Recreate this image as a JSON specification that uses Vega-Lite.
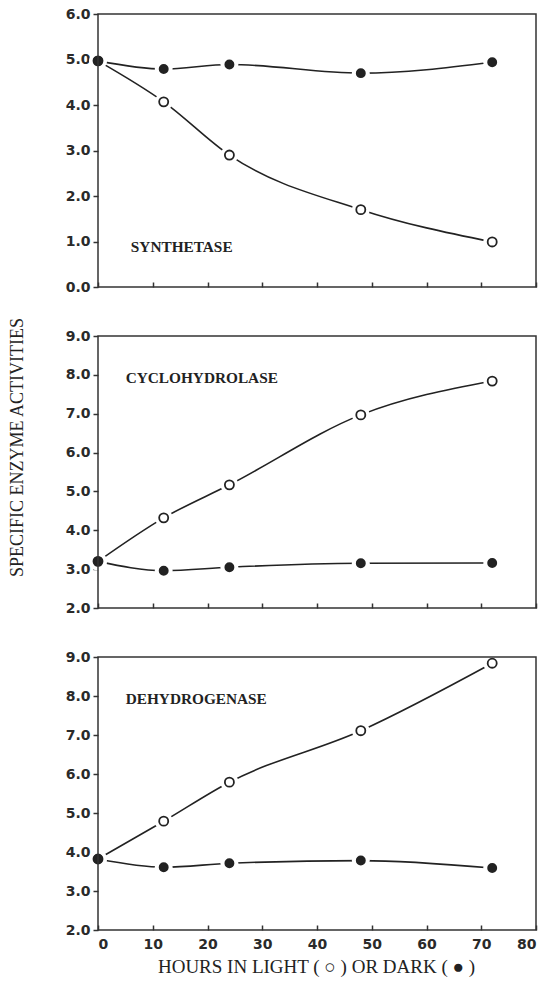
{
  "$schema": "https://vega.github.io/schema/vega-lite/v6.json",
  "background": "white",
  "padding": {"left": 8, "top": 7, "right": 5, "bottom": 5},
  "datasets": {
    "d": [
      {"panel": "syn", "cond": "light", "hours": 0, "value": 4.97},
      {"panel": "syn", "cond": "light", "hours": 12, "value": 4.07},
      {"panel": "syn", "cond": "light", "hours": 24, "value": 2.9},
      {"panel": "syn", "cond": "light", "hours": 48, "value": 1.7},
      {"panel": "syn", "cond": "light", "hours": 72, "value": 0.99},
      {"panel": "syn", "cond": "dark", "hours": 0, "value": 4.97},
      {"panel": "syn", "cond": "dark", "hours": 12, "value": 4.79},
      {"panel": "syn", "cond": "dark", "hours": 24, "value": 4.89},
      {"panel": "syn", "cond": "dark", "hours": 48, "value": 4.7},
      {"panel": "syn", "cond": "dark", "hours": 72, "value": 4.94},
      {"panel": "cyc", "cond": "light", "hours": 0, "value": 3.2},
      {"panel": "cyc", "cond": "light", "hours": 12, "value": 4.32},
      {"panel": "cyc", "cond": "light", "hours": 24, "value": 5.17},
      {"panel": "cyc", "cond": "light", "hours": 48, "value": 6.97},
      {"panel": "cyc", "cond": "light", "hours": 72, "value": 7.84},
      {"panel": "cyc", "cond": "dark", "hours": 0, "value": 3.2},
      {"panel": "cyc", "cond": "dark", "hours": 12, "value": 2.96},
      {"panel": "cyc", "cond": "dark", "hours": 24, "value": 3.05},
      {"panel": "cyc", "cond": "dark", "hours": 48, "value": 3.15},
      {"panel": "cyc", "cond": "dark", "hours": 72, "value": 3.16},
      {"panel": "deh", "cond": "light", "hours": 0, "value": 3.82},
      {"panel": "deh", "cond": "light", "hours": 12, "value": 4.79},
      {"panel": "deh", "cond": "light", "hours": 24, "value": 5.79},
      {"panel": "deh", "cond": "light", "hours": 48, "value": 7.11},
      {"panel": "deh", "cond": "light", "hours": 72, "value": 8.84},
      {"panel": "deh", "cond": "dark", "hours": 0, "value": 3.82},
      {"panel": "deh", "cond": "dark", "hours": 12, "value": 3.61},
      {"panel": "deh", "cond": "dark", "hours": 24, "value": 3.71},
      {"panel": "deh", "cond": "dark", "hours": 48, "value": 3.78},
      {"panel": "deh", "cond": "dark", "hours": 72, "value": 3.59}
    ],
    "labels": [
      {"panel": "syn", "label": "SYNTHETASE"},
      {"panel": "cyc", "label": "CYCLOHYDROLASE"},
      {"panel": "deh", "label": "DEHYDROGENASE"}
    ]
  },
  "spacing": 49,
  "bounds": "flush",
  "vconcat": [
    {
      "width": 438, "height": 273,
      "layer": [
        {"data": {"name": "d"}, "transform": [{"filter": "datum.panel == 'syn'"}],
         "mark": {"type": "line", "interpolate": "monotone", "stroke": "#222", "strokeWidth": 1.6},
         "encoding": {
           "x": {"field": "hours", "type": "quantitative", "scale": {"domain": [0, 80], "nice": false},
                 "axis": {"values": [0, 10, 20, 30, 40, 50, 60, 70, 80], "labels": false, "title": null, "offset": -5}},
           "y": {"field": "value", "type": "quantitative", "scale": {"domain": [0, 6], "nice": false},
                 "axis": {"values": [0, 1, 2, 3, 4, 5, 6], "format": ".1f", "title": null}},
           "detail": {"field": "cond"}}},
        {"data": {"name": "d"}, "transform": [{"filter": "datum.panel == 'syn'"}],
         "mark": {"type": "point", "shape": "circle", "filled": true, "size": 320, "color": "white", "opacity": 1},
         "encoding": {
           "x": {"field": "hours", "type": "quantitative", "axis": {"values": [0, 10, 20, 30, 40, 50, 60, 70, 80], "labels": false, "title": null, "offset": -5}},
           "y": {"field": "value", "type": "quantitative", "axis": {"values": [0, 1, 2, 3, 4, 5, 6], "format": ".1f", "title": null}}}},
        {"data": {"name": "d"}, "transform": [{"filter": "datum.panel == 'syn'"}],
         "mark": {"type": "point", "shape": "circle", "filled": true, "stroke": "#222", "strokeWidth": 1.8, "opacity": 1},
         "encoding": {
           "x": {"field": "hours", "type": "quantitative", "axis": {"values": [0, 10, 20, 30, 40, 50, 60, 70, 80], "labels": false, "title": null, "offset": -5}},
           "y": {"field": "value", "type": "quantitative", "axis": {"values": [0, 1, 2, 3, 4, 5, 6], "format": ".1f", "title": null}},
           "fill": {"field": "cond", "type": "nominal", "scale": {"domain": ["light", "dark"], "range": ["white", "#222"]}, "legend": null},
           "size": {"field": "cond", "type": "nominal", "scale": {"domain": ["light", "dark"], "range": [82, 66]}, "legend": null}
         }},
        {"data": {"name": "labels"}, "transform": [{"filter": "datum.panel == 'syn'"}],
         "mark": {"type": "text", "align": "left", "baseline": "middle", "font": "Liberation Serif", "fontWeight": "bold", "fontSize": 15.3, "fill": "#222"},
         "encoding": {
           "x": {"datum": 6, "type": "quantitative", "axis": {"values": [0, 10, 20, 30, 40, 50, 60, 70, 80], "labels": false, "title": null, "offset": -5}},
           "y": {"datum": 0.87, "type": "quantitative", "axis": {"values": [0, 1, 2, 3, 4, 5, 6], "format": ".1f", "title": null}},
           "text": {"field": "label", "type": "nominal"}}},
        {"data": {"name": "labels"}, "transform": [{"filter": "datum.panel == 'syn'"}],
         "mark": {"type": "rect", "filled": false, "stroke": "#333", "strokeWidth": 1.5},
         "encoding": {
           "x": {"datum": 0, "type": "quantitative", "axis": {"values": [0, 10, 20, 30, 40, 50, 60, 70, 80], "labels": false, "title": null, "offset": -5}},
           "x2": {"datum": 80},
           "y": {"datum": 0, "type": "quantitative", "axis": {"values": [0, 1, 2, 3, 4, 5, 6], "format": ".1f", "title": null}},
           "y2": {"datum": 6}}}
      ]
    },
    {
      "width": 438, "height": 272,
      "layer": [
        {"data": {"name": "d"}, "transform": [{"filter": "datum.panel == 'cyc'"}],
         "mark": {"type": "line", "interpolate": "monotone", "stroke": "#222", "strokeWidth": 1.6},
         "encoding": {
           "x": {"field": "hours", "type": "quantitative", "scale": {"domain": [0, 80], "nice": false},
                 "axis": {"values": [0, 10, 20, 30, 40, 50, 60, 70, 80], "labels": false, "title": null, "offset": -5}},
           "y": {"field": "value", "type": "quantitative", "scale": {"domain": [2, 9], "nice": false},
                 "axis": {"values": [2, 3, 4, 5, 6, 7, 8, 9], "format": ".1f", "title": "SPECIFIC ENZYME ACTIVITIES",
                          "titleX": -80.5, "titleY": 111, "titleAngle": 270, "titleAlign": "center", "titleBaseline": "middle"}},
           "detail": {"field": "cond"}}},
        {"data": {"name": "d"}, "transform": [{"filter": "datum.panel == 'cyc'"}],
         "mark": {"type": "point", "shape": "circle", "filled": true, "size": 320, "color": "white", "opacity": 1},
         "encoding": {
           "x": {"field": "hours", "type": "quantitative", "axis": {"values": [0, 10, 20, 30, 40, 50, 60, 70, 80], "labels": false, "title": null, "offset": -5}},
           "y": {"field": "value", "type": "quantitative", "axis": {"values": [2, 3, 4, 5, 6, 7, 8, 9], "format": ".1f", "title": "SPECIFIC ENZYME ACTIVITIES",
                          "titleX": -80.5, "titleY": 111, "titleAngle": 270, "titleAlign": "center", "titleBaseline": "middle"}}}},
        {"data": {"name": "d"}, "transform": [{"filter": "datum.panel == 'cyc'"}],
         "mark": {"type": "point", "shape": "circle", "filled": true, "stroke": "#222", "strokeWidth": 1.8, "opacity": 1},
         "encoding": {
           "x": {"field": "hours", "type": "quantitative", "axis": {"values": [0, 10, 20, 30, 40, 50, 60, 70, 80], "labels": false, "title": null, "offset": -5}},
           "y": {"field": "value", "type": "quantitative", "axis": {"values": [2, 3, 4, 5, 6, 7, 8, 9], "format": ".1f", "title": "SPECIFIC ENZYME ACTIVITIES",
                          "titleX": -80.5, "titleY": 111, "titleAngle": 270, "titleAlign": "center", "titleBaseline": "middle"}},
           "fill": {"field": "cond", "type": "nominal", "scale": {"domain": ["light", "dark"], "range": ["white", "#222"]}, "legend": null},
           "size": {"field": "cond", "type": "nominal", "scale": {"domain": ["light", "dark"], "range": [82, 66]}, "legend": null}
         }},
        {"data": {"name": "labels"}, "transform": [{"filter": "datum.panel == 'cyc'"}],
         "mark": {"type": "text", "align": "left", "baseline": "middle", "font": "Liberation Serif", "fontWeight": "bold", "fontSize": 15.3, "fill": "#222"},
         "encoding": {
           "x": {"datum": 5.06, "type": "quantitative", "axis": {"values": [0, 10, 20, 30, 40, 50, 60, 70, 80], "labels": false, "title": null, "offset": -5}},
           "y": {"datum": 7.92, "type": "quantitative", "axis": {"values": [2, 3, 4, 5, 6, 7, 8, 9], "format": ".1f", "title": "SPECIFIC ENZYME ACTIVITIES",
                          "titleX": -80.5, "titleY": 111, "titleAngle": 270, "titleAlign": "center", "titleBaseline": "middle"}},
           "text": {"field": "label", "type": "nominal"}}},
        {"data": {"name": "labels"}, "transform": [{"filter": "datum.panel == 'cyc'"}],
         "mark": {"type": "rect", "filled": false, "stroke": "#333", "strokeWidth": 1.5},
         "encoding": {
           "x": {"datum": 0, "type": "quantitative", "axis": {"values": [0, 10, 20, 30, 40, 50, 60, 70, 80], "labels": false, "title": null, "offset": -5}},
           "x2": {"datum": 80},
           "y": {"datum": 2, "type": "quantitative", "axis": {"values": [2, 3, 4, 5, 6, 7, 8, 9], "format": ".1f", "title": "SPECIFIC ENZYME ACTIVITIES",
                          "titleX": -80.5, "titleY": 111, "titleAngle": 270, "titleAlign": "center", "titleBaseline": "middle"}},
           "y2": {"datum": 9}}}
      ]
    },
    {
      "width": 438, "height": 273,
      "layer": [
        {"data": {"name": "d"}, "transform": [{"filter": "datum.panel == 'deh'"}],
         "mark": {"type": "line", "interpolate": "monotone", "stroke": "#222", "strokeWidth": 1.6},
         "encoding": {
           "x": {"field": "hours", "type": "quantitative", "scale": {"domain": [0, 80], "nice": false},
                 "axis": {"values": [0, 10, 20, 30, 40, 50, 60, 70, 80], "format": "d", "offset": -5, "title": "HOURS IN LIGHT ( ○ ) OR DARK ( ● )",
                          "titleX": 218, "titleY": 41, "titleAlign": "center", "titleBaseline": "middle", "titleFontSize": 19}},
           "y": {"field": "value", "type": "quantitative", "scale": {"domain": [2, 9], "nice": false},
                 "axis": {"values": [2, 3, 4, 5, 6, 7, 8, 9], "format": ".1f", "title": null}},
           "detail": {"field": "cond"}}},
        {"data": {"name": "d"}, "transform": [{"filter": "datum.panel == 'deh'"}],
         "mark": {"type": "point", "shape": "circle", "filled": true, "size": 320, "color": "white", "opacity": 1},
         "encoding": {
           "x": {"field": "hours", "type": "quantitative", "axis": {"values": [0, 10, 20, 30, 40, 50, 60, 70, 80], "format": "d", "offset": -5, "title": "HOURS IN LIGHT ( ○ ) OR DARK ( ● )",
                          "titleX": 218, "titleY": 41, "titleAlign": "center", "titleBaseline": "middle", "titleFontSize": 19}},
           "y": {"field": "value", "type": "quantitative", "axis": {"values": [2, 3, 4, 5, 6, 7, 8, 9], "format": ".1f", "title": null}}}},
        {"data": {"name": "d"}, "transform": [{"filter": "datum.panel == 'deh'"}],
         "mark": {"type": "point", "shape": "circle", "filled": true, "stroke": "#222", "strokeWidth": 1.8, "opacity": 1},
         "encoding": {
           "x": {"field": "hours", "type": "quantitative", "axis": {"values": [0, 10, 20, 30, 40, 50, 60, 70, 80], "format": "d", "offset": -5, "title": "HOURS IN LIGHT ( ○ ) OR DARK ( ● )",
                          "titleX": 218, "titleY": 41, "titleAlign": "center", "titleBaseline": "middle", "titleFontSize": 19}},
           "y": {"field": "value", "type": "quantitative", "axis": {"values": [2, 3, 4, 5, 6, 7, 8, 9], "format": ".1f", "title": null}},
           "fill": {"field": "cond", "type": "nominal", "scale": {"domain": ["light", "dark"], "range": ["white", "#222"]}, "legend": null},
           "size": {"field": "cond", "type": "nominal", "scale": {"domain": ["light", "dark"], "range": [82, 66]}, "legend": null}
         }},
        {"data": {"name": "labels"}, "transform": [{"filter": "datum.panel == 'deh'"}],
         "mark": {"type": "text", "align": "left", "baseline": "middle", "font": "Liberation Serif", "fontWeight": "bold", "fontSize": 15.3, "fill": "#222"},
         "encoding": {
           "x": {"datum": 5.06, "type": "quantitative", "axis": {"values": [0, 10, 20, 30, 40, 50, 60, 70, 80], "format": "d", "offset": -5, "title": "HOURS IN LIGHT ( ○ ) OR DARK ( ● )",
                          "titleX": 218, "titleY": 41, "titleAlign": "center", "titleBaseline": "middle", "titleFontSize": 19}},
           "y": {"datum": 7.93, "type": "quantitative", "axis": {"values": [2, 3, 4, 5, 6, 7, 8, 9], "format": ".1f", "title": null}},
           "text": {"field": "label", "type": "nominal"}}},
        {"data": {"name": "labels"}, "transform": [{"filter": "datum.panel == 'deh'"}],
         "mark": {"type": "rect", "filled": false, "stroke": "#333", "strokeWidth": 1.5},
         "encoding": {
           "x": {"datum": 0, "type": "quantitative", "axis": {"values": [0, 10, 20, 30, 40, 50, 60, 70, 80], "format": "d", "offset": -5, "title": "HOURS IN LIGHT ( ○ ) OR DARK ( ● )",
                          "titleX": 218, "titleY": 41, "titleAlign": "center", "titleBaseline": "middle", "titleFontSize": 19}},
           "x2": {"datum": 80},
           "y": {"datum": 2, "type": "quantitative", "axis": {"values": [2, 3, 4, 5, 6, 7, 8, 9], "format": ".1f", "title": null}},
           "y2": {"datum": 9}}}
      ]
    }
  ],
  "config": {
    "view": {"stroke": null},
    "axis": {
      "grid": false, "domain": false,
      "labelFont": "DejaVu Sans", "labelFontWeight": "bold", "labelFontSize": 14, "labelColor": "#2a2a2a",
      "tickColor": "#333", "tickWidth": 1.5,
      "titleFont": "Liberation Serif", "titleFontWeight": "normal", "titleFontSize": 18, "titleColor": "#222"
    },
    "axisY": {"tickSize": 5, "labelPadding": 3},
    "axisX": {"tickSize": 5, "labelPadding": 7}
  }
}
